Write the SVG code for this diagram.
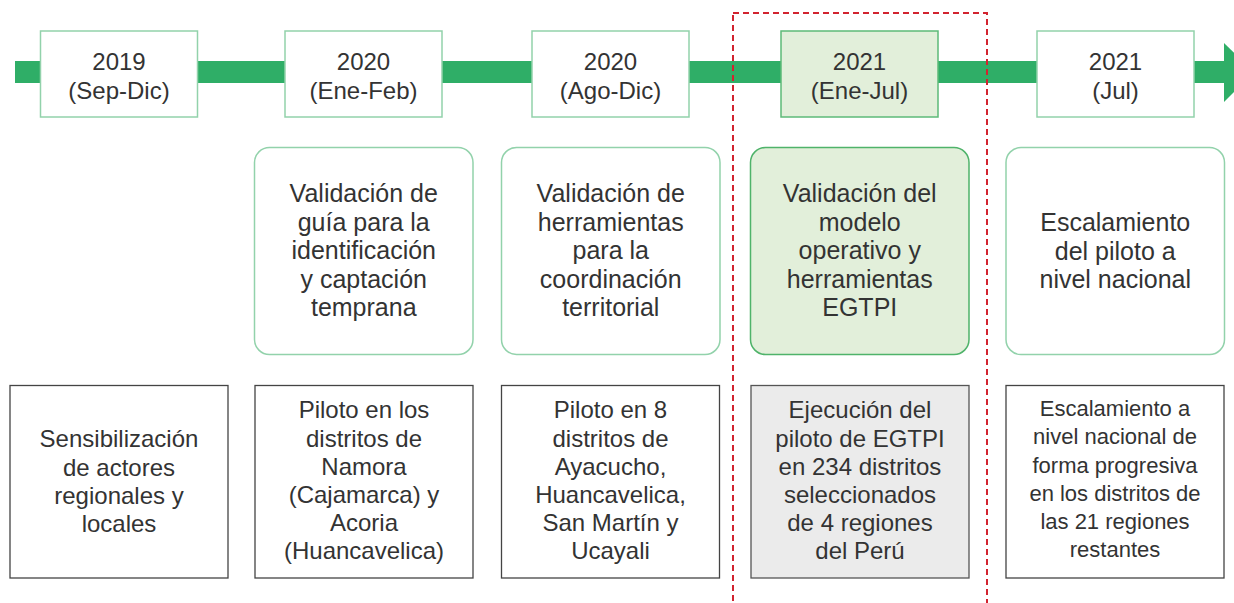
<svg xmlns="http://www.w3.org/2000/svg" width="1234" height="603" viewBox="0 0 1234 603">
<style>
text{font-family:"Liberation Sans",Arial,sans-serif;fill:#333;text-anchor:middle}
.t{font-size:24px}
.m{font-size:25px}
.b{font-size:24px}
.s{font-size:22px}
.yr{fill:#fff;stroke:#92d2ab;stroke-width:1.5}
.yrh{fill:#e2efda;stroke:#5dba78;stroke-width:1.5}
.mid{fill:#fff;stroke:#92d2ab;stroke-width:1.5}
.midh{fill:#e2efda;stroke:#4fb36a;stroke-width:1.5}
.bot{fill:#fff;stroke:#444;stroke-width:1.3}
.both{fill:#ebebeb;stroke:#555;stroke-width:1.3}
</style>
<g id="timeline">
<rect x="15" y="61" width="1210" height="22" fill="#2fae67"/>
<polygon points="1224,43 1254,72 1224,102" fill="#2fae67"/>
</g>
<g id="highlight">
<rect x="733" y="13" width="254" height="620" fill="none" stroke="#d2232f" stroke-width="2" stroke-dasharray="6,4"/>
</g>
<g id="y2019"><rect class="yr" x="40.5" y="31" width="157" height="86"/><text class="t" x="119" y="70">2019</text><text class="t" x="119" y="99">(Sep-Dic)</text></g>
<g id="y2020a"><rect class="yr" x="285" y="31" width="157" height="86"/><text class="t" x="363.5" y="70">2020</text><text class="t" x="363.5" y="99">(Ene-Feb)</text></g>
<g id="y2020b"><rect class="yr" x="532" y="31" width="157" height="86"/><text class="t" x="610.5" y="70">2020</text><text class="t" x="610.5" y="99">(Ago-Dic)</text></g>
<g id="y2021a"><rect class="yrh" x="781" y="31" width="157" height="86"/><text class="t" x="859.5" y="70">2021</text><text class="t" x="859.5" y="99">(Ene-Jul)</text></g>
<g id="y2021b"><rect class="yr" x="1037" y="31" width="157" height="86"/><text class="t" x="1115.5" y="70">2021</text><text class="t" x="1115.5" y="99">(Jul)</text></g>

<g id="m2"><rect class="mid" x="254.5" y="147.5" width="218.5" height="207" rx="15"/>
<text class="m" x="363.75"><tspan x="363.75" y="202">Validación de</tspan><tspan x="363.75" y="230.5">guía para la</tspan><tspan x="363.75" y="259">identificación</tspan><tspan x="363.75" y="287.5">y captación</tspan><tspan x="363.75" y="316">temprana</tspan></text></g>
<g id="m3"><rect class="mid" x="501.5" y="147.5" width="218.5" height="207" rx="15"/>
<text class="m" x="610.75"><tspan x="610.75" y="202">Validación de</tspan><tspan x="610.75" y="230.5">herramientas</tspan><tspan x="610.75" y="259">para la</tspan><tspan x="610.75" y="287.5">coordinación</tspan><tspan x="610.75" y="316">territorial</tspan></text></g>
<g id="m4"><rect class="midh" x="750.5" y="147.5" width="218.5" height="207" rx="15"/>
<text class="m" x="859.75"><tspan x="859.75" y="202">Validación del</tspan><tspan x="859.75" y="230.5">modelo</tspan><tspan x="859.75" y="259">operativo y</tspan><tspan x="859.75" y="287.5">herramientas</tspan><tspan x="859.75" y="316">EGTPI</tspan></text></g>
<g id="m5"><rect class="mid" x="1006" y="147.5" width="218.5" height="207" rx="15"/>
<text class="m" x="1115.25"><tspan x="1115.25" y="231">Escalamiento</tspan><tspan x="1115.25" y="259.5">del piloto a</tspan><tspan x="1115.25" y="288">nivel nacional</tspan></text></g>

<g id="b1"><rect class="bot" x="10" y="385.5" width="218" height="192.5"/>
<text class="b" x="119"><tspan x="119" y="447">Sensibilización</tspan><tspan x="119" y="475.5">de actores</tspan><tspan x="119" y="504">regionales y</tspan><tspan x="119" y="532">locales</tspan></text></g>
<g id="b2"><rect class="bot" x="255" y="385.5" width="218" height="192.5"/>
<text class="b" x="364"><tspan x="364" y="418">Piloto en los</tspan><tspan x="364" y="446.5">distritos de</tspan><tspan x="364" y="475">Namora</tspan><tspan x="364" y="503">(Cajamarca) y</tspan><tspan x="364" y="531">Acoria</tspan><tspan x="364" y="559">(Huancavelica)</tspan></text></g>
<g id="b3"><rect class="bot" x="501.5" y="385.5" width="218" height="192.5"/>
<text class="b" x="610.5"><tspan x="610.5" y="418">Piloto en 8</tspan><tspan x="610.5" y="446.5">distritos de</tspan><tspan x="610.5" y="475">Ayacucho,</tspan><tspan x="610.5" y="503">Huancavelica,</tspan><tspan x="610.5" y="531">San Martín y</tspan><tspan x="610.5" y="559">Ucayali</tspan></text></g>
<g id="b4"><rect class="both" x="751" y="385.5" width="218" height="192.5"/>
<text class="b" x="860"><tspan x="860" y="418">Ejecución del</tspan><tspan x="860" y="446.5">piloto de EGTPI</tspan><tspan x="860" y="475">en 234 distritos</tspan><tspan x="860" y="503">seleccionados</tspan><tspan x="860" y="531">de 4 regiones</tspan><tspan x="860" y="559">del Perú</tspan></text></g>
<g id="b5"><rect class="bot" x="1006" y="385.5" width="218" height="192.5"/>
<text class="s" x="1115"><tspan x="1115" y="416">Escalamiento a</tspan><tspan x="1115" y="444">nivel nacional de</tspan><tspan x="1115" y="472.5">forma progresiva</tspan><tspan x="1115" y="500.5">en los distritos de</tspan><tspan x="1115" y="528.5">las 21 regiones</tspan><tspan x="1115" y="557">restantes</tspan></text></g>
</svg>
